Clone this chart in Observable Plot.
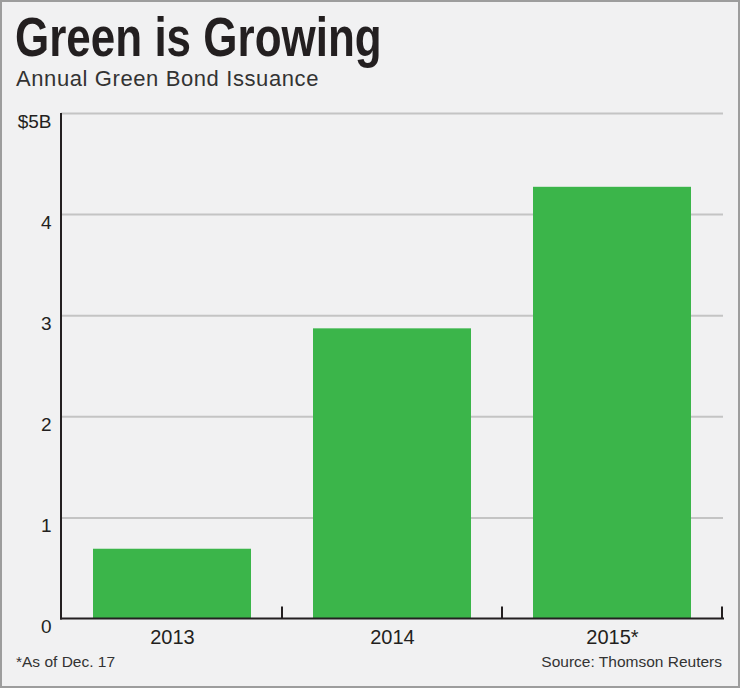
<!DOCTYPE html>
<html>
<head>
<meta charset="utf-8">
<script src="https://cdn.jsdelivr.net/npm/d3@7"></script>
<script src="https://cdn.jsdelivr.net/npm/@observablehq/plot@0.6"></script>
<style>
  html, body { margin: 0; padding: 0; background: #f1f1f2; }
  #chart {
    position: relative; width: 740px; height: 688px; overflow: hidden;
    background: #f1f1f2; box-shadow: inset 0 0 0 2px #9d9d9d;
    font-family: "Liberation Sans", Arial, Helvetica, sans-serif; color: #231f20;
  }
  #chart .title {
    position: absolute; left: 15px; top: 10px; margin: 0;
    font-size: 55px; font-weight: bold; line-height: 1; white-space: nowrap;
    transform: scaleX(0.8); transform-origin: 0 0; color: #231f20;
  }
  #chart .subtitle {
    position: absolute; left: 16px; top: 68px; margin: 0;
    font-size: 22px; line-height: 1; letter-spacing: 0.6px; white-space: nowrap; color: #333;
  }
  #chart .plot { position: absolute; left: 0; top: 100px; }
  #chart .note, #chart .source {
    position: absolute; top: 654px; margin: 0;
    font-size: 15.5px; line-height: 1; white-space: nowrap; color: #333;
  }
  #chart .note { left: 16px; }
  #chart .source { right: 18px; }
</style>
</head>
<body>
<div id="chart">
  <div class="title">Green is Growing</div>
  <div class="subtitle">Annual Green Bond Issuance</div>
  <div class="plot" id="plot"></div>
  <div class="note">*As of Dec. 17</div>
  <div class="source">Source: Thomson Reuters</div>
</div>
<script>
// Annual green bond issuance, billions of US dollars
const years = ["2013", "2014", "2015*"];
const issuance = [0.69, 2.87, 4.27];
const yTicks = [0, 1, 2, 3, 4, 5];
const gridLines = [1, 2, 3, 4, 5];

const rows = years.map((year, i) => ({year, value: issuance[i]}));

const ink = "#231f20";

// Left axis line, baseline and the small ticks separating the year bands
function axisFrame(index, scales, values, dims) {
  const {x, y} = scales;
  const g = d3.create("svg:g")
    .attr("stroke", ink).attr("stroke-width", 2).attr("fill", "none");
  const left = dims.marginLeft;
  const right = dims.width - dims.marginRight;
  const y0 = y(0);
  const yTop = y(d3.max(yTicks));
  const bw = typeof x.bandwidth === "function" ? x.bandwidth() : x.bandwidth;
  const step = x(years[1]) - x(years[0]);
  const edges = years.map(c => x(c) + bw + (step - bw) / 2);
  g.append("line")
    .attr("x1", left).attr("x2", left).attr("y1", yTop).attr("y2", y0 + 1);
  g.append("line")
    .attr("x1", left - 1).attr("x2", right + 1).attr("y1", y0).attr("y2", y0);
  for (const e of edges) {
    g.append("line")
      .attr("x1", e).attr("x2", e).attr("y1", y0).attr("y2", y0 - 12);
  }
  return g.node();
}

const chart = Plot.plot({
  width: 740,
  height: 550,
  marginLeft: 61,
  marginRight: 17,
  marginTop: 13,
  marginBottom: 31.5,
  style: {
    background: "transparent",
    fontFamily: '"Liberation Sans", Arial, Helvetica, sans-serif',
    color: ink
  },
  x: {domain: years, paddingInner: 0.28, paddingOuter: 0.14, label: null},
  y: {domain: [0, 5], label: null},
  marks: [
    Plot.ruleY(gridLines, {stroke: "#c4c4c4", strokeWidth: 2}),
    Plot.barY(rows, {x: "year", y: "value", fill: "#3bb54a"}),
    Plot.axisX({tickSize: 0, tickPadding: 11, fontSize: 20, fill: ink, label: null}),
    Plot.axisY({
      ticks: yTicks, tickSize: 0, tickPadding: 10, fontSize: 19, dy: 8, fill: ink, label: null,
      tickFormat: d => d === d3.max(yTicks) ? `$${d}B` : String(d)
    }),
    axisFrame
  ]
});

document.getElementById("plot").append(chart);
</script>
</body>
</html>
